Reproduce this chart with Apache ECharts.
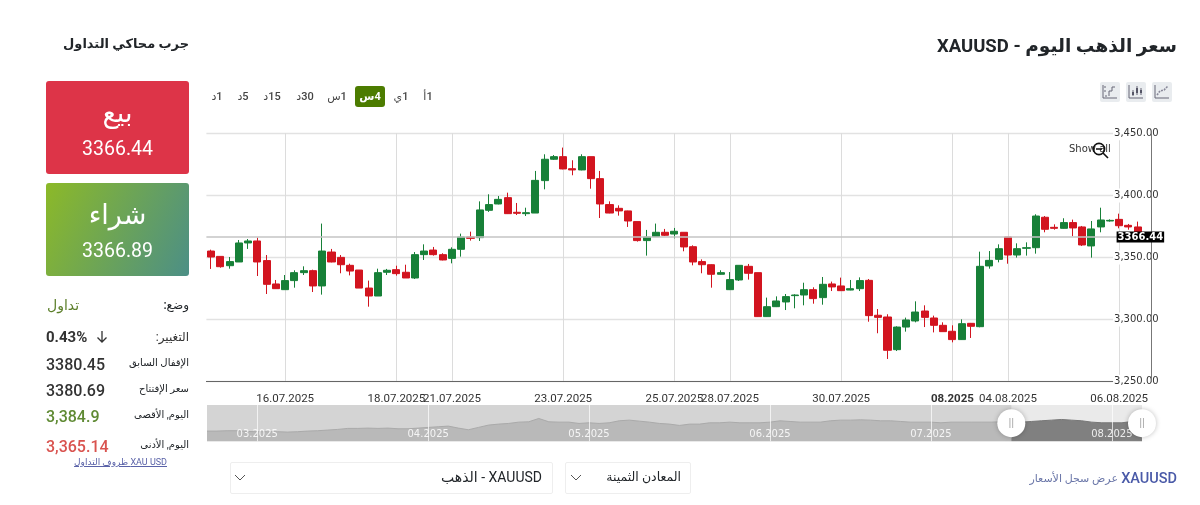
<!DOCTYPE html>
<html lang="ar">
<head>
<meta charset="utf-8">
<style>
  html, body { margin: 0; padding: 0; background: #fff; }
  body { width: 1200px; height: 505px; position: relative; overflow: hidden; font-family: Roboto, "DejaVu Sans", sans-serif; color: #212529; }
  #chart { position: absolute; left: 0; top: 0; width: 1200px; height: 505px; }
  .t { position: absolute; white-space: nowrap; line-height: 1; }
  .r { direction: rtl; }
  .box { position: absolute; left: 46px; width: 143px; height: 93px; border-radius: 3px; color: #fff; text-align: center; }
  .box .a { position: absolute; left: 0; right: 0; top: 14px; font-size: 27px; line-height: 36px; }
  .box .b { position: absolute; left: 0; right: 0; top: 56px; font-size: 19.5px; line-height: 24px; }
  .tf { position: absolute; top: 90px; font-size: 11px; line-height: 13px; font-weight: 500; color: #444; transform: translateX(-50%); direction: rtl; }
  .ico { position: absolute; top: 82px; width: 20px; height: 20px; background: #e9ecef; border-radius: 2px; }
  .sel { position: absolute; top: 462px; height: 30px; border: 1px solid #eee; border-radius: 2px; }
</style>
</head>
<body>
<div id="chart"></div>

<div class="t r" style="right:23px;top:37px;font-size:18.5px;font-weight:700;">سعر الذهب اليوم - XAUUSD</div>
<div class="t r" style="right:1011px;top:37px;font-size:13px;font-weight:700;">جرب محاكي التداول</div>

<div class="box" style="top:81px;background:#dd3448;"><div class="a">بيع</div><div class="b">3366.44</div></div>
<div class="box" style="top:183px;background:linear-gradient(115deg,#8cb928,#4c8f86);"><div class="a">شراء</div><div class="b">3366.89</div></div>

<div class="t r" style="right:1011px;top:299px;font-size:12px;font-weight:500;">وضع:</div>
<div class="t r" style="left:47px;top:298px;font-size:14px;color:#5c7f2a;">تداول</div>
<div class="t r" style="right:1011px;top:331px;font-size:12px;color:#333;">التغيير:</div>
<div class="t" style="left:46px;top:330px;font-size:15px;font-weight:700;color:#333;">0.43%</div>
<svg style="position:absolute;left:95px;top:330px" width="14" height="14"><path d="M7 1V12M2.5 7.5L7 12L11.5 7.5" fill="none" stroke="#333" stroke-width="1.3"/></svg>
<div class="t r" style="right:1011px;top:358px;font-size:10px;">الإقفال السابق</div>
<div class="t" style="left:46px;top:357px;font-size:16px;font-weight:500;color:#333;">3380.45</div>
<div class="t r" style="right:1011px;top:384px;font-size:10px;">سعر الإفتتاح</div>
<div class="t" style="left:46px;top:383px;font-size:16px;font-weight:500;color:#333;">3380.69</div>
<div class="t r" style="right:1011px;top:410px;font-size:10px;">اليوم, الأقصى</div>
<div class="t" style="left:46px;top:409px;font-size:16px;font-weight:500;color:#5f8a33;">3,384.9</div>
<div class="t r" style="right:1011px;top:440px;font-size:10px;">اليوم, الأدنى</div>
<div class="t" style="left:46px;top:439px;font-size:16px;font-weight:500;color:#d9534f;">3,365.14</div>
<div class="t r" style="right:1033px;top:458px;font-size:9px;color:#5a62a8;text-decoration:underline;">XAU USD ظروف التداول</div>

<div class="tf" style="left:428px;">1أ</div>
<div class="tf" style="left:401px;">1ي</div>
<div style="position:absolute;left:355px;top:86px;width:30px;height:21px;background:#4c7c00;border-radius:3px;"></div>
<div class="tf" style="left:370px;color:#fff;font-weight:700;">4س</div>
<div class="tf" style="left:337px;">1س</div>
<div class="tf" style="left:305px;">30د</div>
<div class="tf" style="left:272px;">15د</div>
<div class="tf" style="left:243px;">5د</div>
<div class="tf" style="left:217px;">1د</div>

<div class="ico" style="left:1100px;"><svg width="20" height="20"><path d="M3 3V16H17M5 14H7M9 14V9H12V5H15" fill="none" stroke="#667" stroke-width="1"/><path d="M5 4V6M5 8V10" stroke="#667"/></svg></div>
<div class="ico" style="left:1126px;"><svg width="20" height="20"><path d="M3 3V16H17" fill="none" stroke="#667"/><path d="M7 8V14M11 4V13M15 6V13" stroke="#667"/><rect x="6" y="10" width="2" height="3" fill="#556"/><rect x="10" y="6" width="2" height="5" fill="#556"/><rect x="14" y="8" width="2" height="3" fill="#556"/></svg></div>
<div class="ico" style="left:1152px;"><svg width="20" height="20"><path d="M3 3V16H17" fill="none" stroke="#667"/><path d="M5 13L8 9L12 8L16 4" fill="none" stroke="#889" stroke-width="1.6" stroke-dasharray="2 1"/></svg></div>

<div class="t" style="left:1069px;top:143px;font:10px 'DejaVu Sans';color:#333;">Show all</div>
<svg style="position:absolute;left:1090px;top:140px" width="20" height="20"><circle cx="9" cy="9" r="5.6" fill="none" stroke="#111" stroke-width="1.6"/><path d="M6 9H12M13 13L18 18" stroke="#111" stroke-width="1.6"/></svg>

<div class="t" style="right:23px;top:472px;font-size:14.5px;font-weight:500;color:#4a5aa8;">XAUUSD</div>
<div class="t r" style="right:82px;top:473px;font-size:11px;color:#6a76a8;">عرض سجل الأسعار</div>

<div class="sel" style="left:565px;width:124px;"><svg style="position:absolute;left:4px;top:10px" width="12" height="10"><path d="M1 2L6 7L11 2" fill="none" stroke="#555"/></svg><div class="t r" style="right:9px;top:8px;font-size:12.5px;">المعادن الثمينة</div></div>
<div class="sel" style="left:230px;width:321px;"><svg style="position:absolute;left:3px;top:10px" width="12" height="10"><path d="M1 2L6 7L11 2" fill="none" stroke="#555"/></svg><div class="t r" style="right:10px;top:7px;font-size:14px;">XAUUSD - الذهب</div></div>

<script src="https://cdn.jsdelivr.net/npm/echarts@6/dist/echarts.min.js"></script>
<script>
// trading days of the 4h candles and how many candles each day has
const dayNames = ['14.07.2025','15.07.2025','16.07.2025','17.07.2025','18.07.2025','21.07.2025','22.07.2025','23.07.2025','24.07.2025','25.07.2025','28.07.2025','29.07.2025','30.07.2025','31.07.2025','01.08.2025','04.08.2025','05.08.2025','06.08.2025'];
const dayCounts = [2,6,6,6,6,6,6,6,6,6,6,6,6,6,6,6,6,3];
const tickLabels = ['16.07.2025','18.07.2025','21.07.2025','23.07.2025','25.07.2025','28.07.2025','30.07.2025','01.08.2025','04.08.2025','06.08.2025'];

// open, close, low, high
const ohlc = [
  [3355.2,3350.4,3340.8,3356.3],[3350.9,3342.6,3341.8,3350.9],[3343.4,3346.7,3341.0,3350.4],[3346.4,3361.7,3346.4,3364.1],
  [3361.7,3363.3,3356.9,3364.9],[3363.3,3346.4,3335.1,3366.0],[3347.5,3328.4,3320.6,3352.0],[3328.7,3324.9,3324.7,3331.9],
  [3324.1,3331.4,3324.1,3335.9],[3331.4,3337.8,3325.7,3339.7],[3337.8,3339.4,3335.9,3342.9],[3339.4,3327.1,3322.2,3340.2],
  [3327.1,3355.2,3320.1,3377.3],[3354.4,3346.4,3346.1,3356.9],[3350.1,3344.2,3337.3,3352.0],[3343.7,3339.1,3335.6,3345.0],
  [3339.9,3325.4,3325.4,3339.9],[3325.4,3319.0,3310.4,3331.4],[3319.0,3337.8,3319.0,3341.0],[3338.1,3339.7,3335.9,3340.8],
  [3340.2,3337.0,3335.4,3343.4],[3338.1,3333.5,3333.5,3344.2],[3333.5,3352.3,3332.7,3354.4],[3352.3,3355.2,3348.0,3360.6],
  [3356.0,3352.3,3351.5,3358.5],[3352.3,3348.0,3347.7,3353.4],[3349.3,3356.6,3345.3,3358.2],[3356.6,3366.5,3350.7,3369.2],
  [3366.5,3365.4,3363.6,3370.8],[3366.0,3388.3,3363.3,3395.2],[3388.0,3392.6,3386.7,3400.9],[3393.1,3396.8,3392.8,3399.5],
  [3398.2,3385.3,3385.0,3402.2],[3386.4,3385.6,3384.2,3393.9],[3385.3,3386.1,3383.4,3390.1],[3385.8,3412.1,3385.8,3419.7],
  [3411.9,3429.1,3404.9,3433.1],[3429.1,3431.2,3428.5,3432.5],[3431.2,3421.3,3421.0,3438.5],[3421.5,3420.5,3416.2,3428.3],
  [3420.5,3431.2,3420.2,3433.1],[3431.2,3413.5,3405.4,3431.2],[3413.5,3393.1,3381.8,3419.7],[3392.6,3385.8,3385.6,3395.2],
  [3389.6,3387.5,3383.7,3392.0],[3387.5,3379.4,3374.6,3387.7],[3378.9,3363.6,3362.8,3378.9],[3363.6,3366.5,3351.5,3372.2],
  [3366.8,3370.3,3366.5,3377.3],[3370.3,3367.9,3367.3,3373.0],[3368.9,3371.1,3365.4,3373.8],[3370.3,3358.5,3355.0,3370.3],
  [3358.7,3346.4,3343.7,3359.8],[3346.7,3344.2,3337.3,3348.5],[3344.2,3336.5,3325.7,3344.5],[3336.5,3337.8,3336.2,3339.7],
  [3324.1,3332.2,3323.8,3338.3],[3331.9,3343.7,3331.1,3343.7],[3342.9,3337.3,3332.2,3344.8],[3337.8,3302.4,3302.1,3337.8],
  [3302.4,3310.4,3302.1,3317.7],[3310.4,3315.0,3310.1,3318.7],[3314.2,3318.5,3307.7,3320.6],[3319.3,3319.8,3309.1,3320.4],
  [3319.8,3324.1,3311.5,3329.7],[3324.1,3316.9,3312.8,3326.0],[3317.7,3328.4,3312.0,3334.3],[3328.7,3326.3,3323.0,3330.6],
  [3327.1,3323.3,3323.0,3333.8],[3323.8,3324.9,3323.6,3331.9],[3324.9,3331.4,3323.0,3334.0],[3331.6,3303.2,3298.3,3332.7],
  [3303.5,3301.8,3289.0,3308.5],[3302.1,3275.3,3268.3,3304.3],[3275.8,3294.0,3274.7,3294.6],[3294.0,3299.7,3290.3,3301.6],
  [3298.9,3306.1,3297.8,3314.7],[3306.9,3301.8,3294.0,3311.5],[3301.3,3295.4,3289.7,3303.2],[3295.4,3290.3,3290.3,3297.8],
  [3290.6,3283.9,3281.7,3295.4],[3283.9,3296.7,3283.6,3300.2],[3297.0,3294.6,3285.2,3297.3],[3294.3,3342.9,3293.8,3354.7],
  [3343.2,3347.7,3341.0,3355.2],[3348.5,3357.1,3346.1,3360.6],[3366.5,3352.0,3345.0,3366.5],[3352.0,3357.1,3349.9,3361.4],
  [3357.4,3357.9,3351.5,3362.2],[3357.9,3383.4,3353.1,3384.8],[3382.4,3372.7,3370.3,3383.4],[3374.3,3373.5,3372.4,3376.7],
  [3373.5,3378.1,3373.2,3381.6],[3378.1,3373.8,3367.1,3380.5],[3374.6,3360.1,3359.3,3375.4],[3359.3,3373.0,3349.9,3379.4],
  [3374.6,3380.2,3370.3,3390.1],[3379.4,3379.9,3378.9,3380.7],[3380.7,3375.6,3373.5,3385.3],[3375.9,3374.6,3372.4,3377.0],
  [3374.6,3366.44,3365.14,3378.9]
];
const lastPrice = 3366.44;

// navigator history
const navValues = [2900,2900,2914,2914,2886,2873,2873,2873,2859,2873,2900,2914,2941,2968,3009,3009,
  3022,3009,3022,2995,2995,3022,3050,3077,3104,3022,2954,3050,3145,3186,3213,3267,
  3281,3417,3281,3267,3267,3213,3240,3213,3240,3322,3349,3308,3267,3213,3186,3131,
  3186,3186,3240,3240,3267,3240,3240,3240,3267,3322,3294,3267,3267,3267,3322,3349,
  3349,3362,3349,3322,3322,3294,3267,3267,3267,3240,3267,3267,3267,3267,3267,3281,
  3267,3267,3294,3322,3349,3376,3349,3322,3267,3240,3240,3240,3294,3322];
const navMonths = {5:'03.2025',22:'04.2025',38:'05.2025',56:'06.2025',72:'07.2025',90:'08.2025'};
const navStart = 80;

let categories = [];
dayNames.forEach((d, i) => { for (let k = 0; k < dayCounts[i]; k++) categories.push(d); });
categories.push('');

const isTick = (i, v) => tickLabels.includes(v) && categories[i - 1] !== v;
const navIdx = navValues.map((v, i) => i);
const isMonth = (i) => navMonths[i] !== undefined;

var myChart = echarts.init(document.querySelector('#chart'));

let option = {
  animation: false,
  grid: [
    { left: 206.4, right: 48.4, top: 133.3, height: 248.4 },
    { left: 207, right: 58, top: 405, height: 36.3, show: true, backgroundColor: '#d4d4d4', borderWidth: 0 }
  ],
  xAxis: [
    {
      type: 'category', gridIndex: 0, data: categories, boundaryGap: true,
      axisLine: { lineStyle: { color: '#666' } },
      axisTick: { alignWithLabel: true, length: 4, interval: isTick, lineStyle: { color: '#666' } },
      splitLine: { show: true, alignWithLabel: true, interval: isTick, lineStyle: { color: '#dcdcdc' } },
      axisLabel: {
        interval: isTick, margin: 11, color: '#333', fontFamily: 'Roboto', fontSize: 11.5,
        formatter: (v) => v === '01.08.2025' ? '{b|08.2025}' : v,
        rich: { b: { fontWeight: 'bold', fontFamily: 'Roboto', fontSize: 11.5, color: '#333' } }
      }
    },
    {
      type: 'category', gridIndex: 1, data: navIdx, boundaryGap: false, z: 5,
      axisLine: { show: false }, axisTick: { show: false },
      splitLine: { show: true, interval: (i) => isMonth(i), lineStyle: { color: 'rgba(255,255,255,0.7)' } },
      axisLabel: {
        inside: true, margin: 2, interval: (i) => isMonth(i), color: 'rgba(255,255,255,0.85)',
        fontFamily: 'DejaVu Sans', fontSize: 10,
        formatter: (v) => navMonths[v] || ''
      }
    }
  ],
  yAxis: [
    {
      type: 'value', gridIndex: 0, position: 'right', min: 3250, max: 3450, interval: 50,
      axisLine: { show: false }, axisTick: { show: false },
      splitLine: { lineStyle: { color: '#e2e2e2', width: 1.3 } },
      axisLabel: {
        inside: true, margin: -7, color: '#333', fontFamily: 'DejaVu Sans', fontSize: 10,
        backgroundColor: '#fff', padding: [4, 0, 0, 1],
        formatter: (v) => v.toLocaleString('en-US', { minimumFractionDigits: 2 })
      }
    },
    // only the axis line, drawn above the tick labels
    {
      type: 'value', gridIndex: 0, position: 'right', min: 3250, max: 3450, interval: 50, z: 3,
      axisLine: { show: true, lineStyle: { color: '#777' } }, axisTick: { show: false },
      splitLine: { show: false }, axisLabel: { show: false }
    },
    {
      type: 'value', gridIndex: 1, min: 2480, max: 3970, show: false
    }
  ],
  series: [
    {
      type: 'candlestick', xAxisIndex: 0, yAxisIndex: 0, data: ohlc, barWidth: 7.6,
      itemStyle: { color: '#178038', color0: '#d2141f', borderColor: '#178038', borderColor0: '#d2141f', borderWidth: 1 },
      markLine: {
        silent: true, symbol: 'none', z: 10, animation: false,
        lineStyle: { color: '#c4c4c4', width: 1.6, type: 'solid' },
        label: {
          position: 'end', distance: -35, color: '#fff', backgroundColor: '#000', fontFamily: 'DejaVu Sans',
          fontSize: 10, fontWeight: 'bold', padding: [1, 1, 0, 1], formatter: () => String(lastPrice)
        },
        data: [{ yAxis: lastPrice }]
      }
    },
    {
      type: 'line', xAxisIndex: 1, yAxisIndex: 2, symbol: 'none',
      data: navValues.map((v, i) => i <= navStart ? v : null),
      lineStyle: { color: '#aaa', width: 1 }, areaStyle: { color: '#b9b9b9', opacity: 1 }
    },
    {
      type: 'line', xAxisIndex: 1, yAxisIndex: 2, symbol: 'none', z: 3,
      data: navValues.map((v, i) => i >= navStart ? v : null),
      lineStyle: { color: '#777', width: 1 }, areaStyle: { color: '#808080', opacity: 1 },
      markArea: {
        silent: true, z: 1, itemStyle: { color: 'rgba(255,255,255,0.5)' },
        data: [[{ xAxis: navStart }, { xAxis: navValues.length - 1 }]]
      },
      markPoint: {
        silent: true, symbol: 'circle', symbolSize: 28, z: 8,
        itemStyle: { color: '#fff', shadowColor: 'rgba(0,0,0,0.25)', shadowBlur: 5 },
        label: { show: true, formatter: '||', color: '#aaa', fontSize: 11 },
        data: [{ coord: [navStart, 3225] }, { coord: [navValues.length - 1, 3225] }]
      }
    }
  ]
};
myChart.setOption(option);
</script>
</body>
</html>
